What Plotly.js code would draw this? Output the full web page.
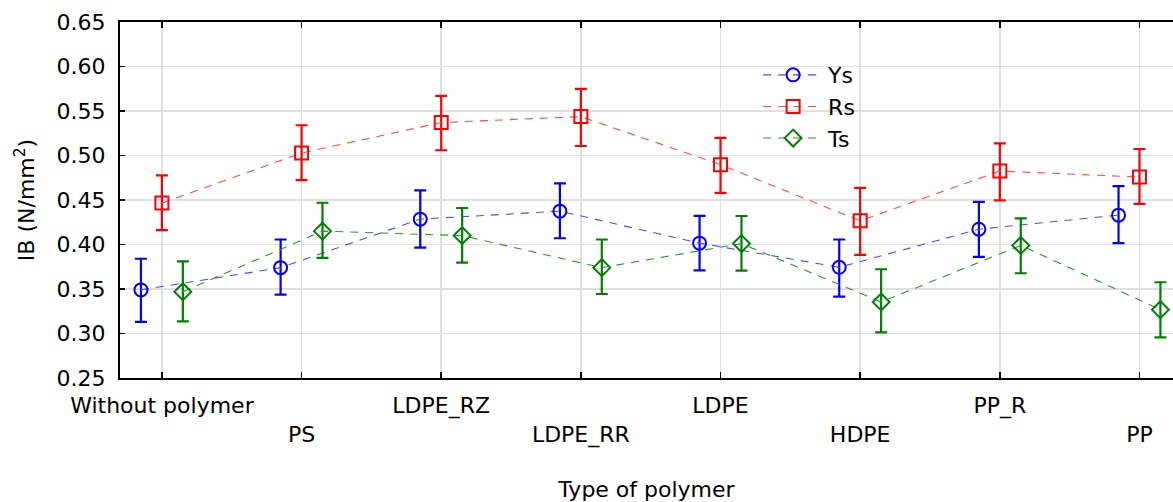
<!DOCTYPE html>
<html>
<head>
<meta charset="utf-8">
<script src="https://cdn.plot.ly/plotly-3.0.1.min.js"></script>
<style>html,body{margin:0;padding:0;background:#fff;}#chart{width:1173px;height:502px;}</style>
</head>
<body>
<div id="chart"></div>
<script>
// Categories
const categories = ["Without polymer", "PS", "LDPE_RZ", "LDPE_RR", "LDPE", "HDPE", "PP_R", "PP"];

// Ys series: mean, upper error, lower error
const ysMean  = [0.349, 0.374, 0.4285, 0.4375, 0.4015, 0.3744, 0.4172, 0.433];
const ysUpper = [0.384, 0.4056, 0.4608, 0.4687, 0.4322, 0.4056, 0.448, 0.4657];
const ysLower = [0.313, 0.3437, 0.3966, 0.407, 0.371, 0.3414, 0.386, 0.4015];

// Rs series
const rsMean  = [0.4465, 0.5028, 0.537, 0.5437, 0.4897, 0.4266, 0.4825, 0.4758];
const rsUpper = [0.4777, 0.534, 0.567, 0.5749, 0.5197, 0.4637, 0.5137, 0.5073];
const rsLower = [0.4161, 0.4724, 0.5059, 0.5107, 0.4581, 0.3883, 0.4495, 0.4457];

// Ts series
const tsMean  = [0.347, 0.415, 0.410, 0.374, 0.401, 0.3354, 0.399, 0.3268];
const tsUpper = [0.381, 0.4469, 0.441, 0.4056, 0.432, 0.3722, 0.4293, 0.3576];
const tsLower = [0.3136, 0.385, 0.3797, 0.3444, 0.3707, 0.3012, 0.3677, 0.2956];

// Staggered tick labels
const tickLabels = categories.map((c, i) => i % 2 === 1 ? "<br>" + c : c);

const FONT = "DejaVu Sans, Arial, sans-serif";

function makeTrace(name, mean, upper, lower, offset, color, lineColor, symbol) {
  const idx = categories.map((_, i) => i + offset);
  return {
    type: "scatter",
    mode: "lines+markers",
    name: name,
    x: idx,
    y: mean,
    line: {color: lineColor, width: 1.1, dash: "8px,7px"},
    marker: {symbol: symbol, size: 13, color: color, line: {color: color, width: 2}},
    error_y: {
      type: "data",
      symmetric: false,
      array: upper.map((u, i) => u - mean[i]),
      arrayminus: mean.map((m, i) => m - lower[i]),
      color: color,
      thickness: 2.2,
      width: 6
    }
  };
}

const traces = [
  makeTrace("Ys", ysMean, ysUpper, ysLower, -0.15, "#0000ff", "#4a4aff", "circle-open"),
  makeTrace("Rs", rsMean, rsUpper, rsLower, 0, "#ff0000", "#ff4a4a", "square-open"),
  makeTrace("Ts", tsMean, tsUpper, tsLower, 0.15, "#008000", "#2a962a", "diamond-open")
];

const layout = {
  width: 1173,
  height: 502,
  margin: {l: 120, r: 0, t: 22, b: 124},
  paper_bgcolor: "#ffffff",
  plot_bgcolor: "#ffffff",
  font: {family: FONT, size: 22, color: "#000"},
  showlegend: true,
  legend: {
    x: 0.606, y: 0.91, xanchor: "left", yanchor: "top",
    bgcolor: "rgba(0,0,0,0)",
    font: {family: FONT, size: 22, color: "#000"},
    itemwidth: 60,
    tracegroupgap: 0
  },
  xaxis: {
    range: [-0.3, 7.24],
    tickmode: "array",
    tickvals: categories.map((_, i) => i),
    ticktext: tickLabels,
    ticks: "inside",
    ticklen: 6,
    tickwidth: 1.5,
    tickcolor: "#000",
    showline: true,
    linecolor: "#000",
    linewidth: 2,
    mirror: "ticks",
    showgrid: true,
    gridcolor: "#e0e0e0",
    gridwidth: 1.5,
    zeroline: false,
    ticklabelstandoff: 7,
    tickfont: {family: FONT, size: 22, color: "#000"},
    title: {text: "Type of polymer", font: {family: FONT, size: 22, color: "#000"}, standoff: 35}
  },
  yaxis: {
    range: [0.25, 0.65],
    tickmode: "linear",
    tick0: 0.25,
    dtick: 0.05,
    tickformat: ".2f",
    ticks: "inside",
    ticklen: 5,
    tickwidth: 1.5,
    tickcolor: "#000",
    showline: true,
    linecolor: "#000",
    linewidth: 2,
    showgrid: true,
    gridcolor: "#e0e0e0",
    gridwidth: 1.5,
    zeroline: false,
    ticklabelstandoff: 8,
    tickfont: {family: FONT, size: 22, color: "#000"},
    title: {text: "IB (N/mm<sup>2</sup>)", font: {family: FONT, size: 22, color: "#000"}, standoff: 16}
  }
};

Plotly.newPlot("chart", traces, layout, {displayModeBar: false, staticPlot: true});
</script>
</body>
</html>
